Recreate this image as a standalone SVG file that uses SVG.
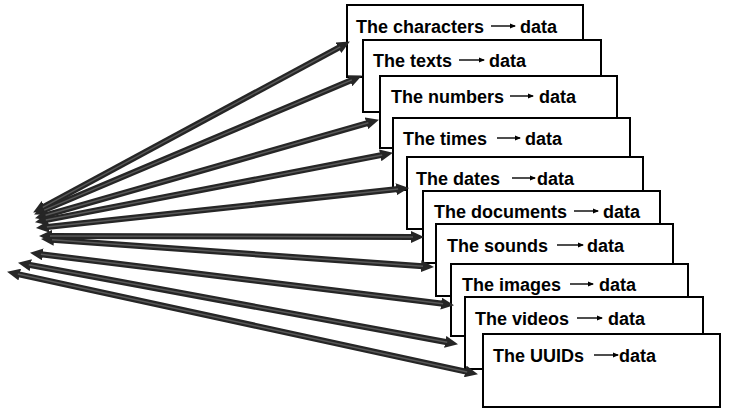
<svg xmlns="http://www.w3.org/2000/svg" width="735" height="414" viewBox="0 0 735 414">
<defs>
<marker id="big" markerUnits="userSpaceOnUse" markerWidth="13" markerHeight="12" viewBox="0 0 13 12" refX="2" refY="6" orient="auto-start-reverse">
<path d="M0,0 L13,6 L0,12 z" fill="#262626"/>
</marker>
<marker id="small" markerUnits="userSpaceOnUse" markerWidth="6" markerHeight="6" viewBox="0 0 6 6" refX="5" refY="3" orient="auto">
<path d="M0,0.5 L6,3 L0,5.5 z" fill="#000"/>
</marker>
</defs>
<style>
.box rect{fill:#fff;stroke:#000;stroke-width:2}
.box text{font-family:"Liberation Sans",Arial,sans-serif;font-weight:bold;font-size:18px;fill:#000}
.box line{stroke:#000;stroke-width:1.4;marker-end:url(#small)}
.conn line.s{stroke:#262626;stroke-width:6;marker-start:url(#big);marker-end:url(#big)}
.conn line.h{stroke:#585858;stroke-width:1.5}
</style>
<rect width="735" height="414" fill="#fff"/>
<g id="n1" class="box"><rect x="347" y="5" width="236" height="72"/><text x="356" y="33">The characters</text><line x1="491" y1="26" x2="515" y2="26"/><text x="520" y="33">data</text></g>
<g id="n2" class="box"><rect x="363" y="40" width="238" height="72"/><text x="373" y="67">The texts</text><line x1="459" y1="60" x2="484" y2="60"/><text x="489" y="67">data</text></g>
<g id="n3" class="box"><rect x="380" y="76" width="237" height="72"/><text x="391" y="103">The numbers</text><line x1="510" y1="96" x2="533" y2="96"/><text x="539" y="103">data</text></g>
<g id="n4" class="box"><rect x="393" y="118" width="237" height="72"/><text x="403" y="145">The times</text><line x1="497" y1="138" x2="520" y2="138"/><text x="525" y="145">data</text></g>
<g id="n5" class="box"><rect x="407" y="157" width="236" height="72"/><text x="416" y="185">The dates</text><line x1="512" y1="178" x2="535" y2="178"/><text x="537" y="185">data</text></g>
<g id="n6" class="box"><rect x="423" y="191" width="237" height="72"/><text x="434" y="218">The documents</text><line x1="574" y1="211" x2="598" y2="211"/><text x="603" y="218">data</text></g>
<g id="n7" class="box"><rect x="436" y="224" width="237" height="72"/><text x="447" y="252">The sounds</text><line x1="557" y1="245" x2="583" y2="245"/><text x="587" y="252">data</text></g>
<g id="n8" class="box"><rect x="451" y="264" width="237" height="72"/><text x="462" y="291">The images</text><line x1="570" y1="284" x2="593" y2="284"/><text x="599" y="291">data</text></g>
<g id="n9" class="box"><rect x="465" y="297" width="238" height="72"/><text x="475" y="325">The videos</text><line x1="577" y1="318" x2="602" y2="318"/><text x="608" y="325">data</text></g>
<g id="n10" class="box"><rect x="483" y="334" width="237" height="73"/><text x="493" y="362">The UUIDs</text><line x1="594" y1="355" x2="618" y2="355"/><text x="619" y="362">data</text></g>
<g id="connectors" class="conn">
<line class="s" x1="42.8" y1="207.3" x2="340.2" y2="46.8"/>
<line class="s" x1="44.2" y1="210.1" x2="351.8" y2="79.9"/>
<line class="s" x1="45.6" y1="215.3" x2="368.4" y2="122.8"/>
<line class="s" x1="45.8" y1="220.1" x2="382.2" y2="154.9"/>
<line class="s" x1="46.9" y1="226.9" x2="398.1" y2="189.1"/>
<line class="s" x1="50" y1="236" x2="413" y2="237"/>
<line class="s" x1="52" y1="239.7" x2="423" y2="266.3"/>
<line class="s" x1="40.9" y1="254.2" x2="443.1" y2="303.8"/>
<line class="s" x1="28.8" y1="264.8" x2="447.2" y2="342.2"/>
<line class="s" x1="17.8" y1="274.1" x2="467.2" y2="371.9"/>
<line class="h" x1="42.8" y1="207.3" x2="340.2" y2="46.8"/>
<line class="h" x1="44.2" y1="210.1" x2="351.8" y2="79.9"/>
<line class="h" x1="45.6" y1="215.3" x2="368.4" y2="122.8"/>
<line class="h" x1="45.8" y1="220.1" x2="382.2" y2="154.9"/>
<line class="h" x1="46.9" y1="226.9" x2="398.1" y2="189.1"/>
<line class="h" x1="50" y1="236" x2="413" y2="237"/>
<line class="h" x1="52" y1="239.7" x2="423" y2="266.3"/>
<line class="h" x1="40.9" y1="254.2" x2="443.1" y2="303.8"/>
<line class="h" x1="28.8" y1="264.8" x2="447.2" y2="342.2"/>
<line class="h" x1="17.8" y1="274.1" x2="467.2" y2="371.9"/>
</g>
</svg>
